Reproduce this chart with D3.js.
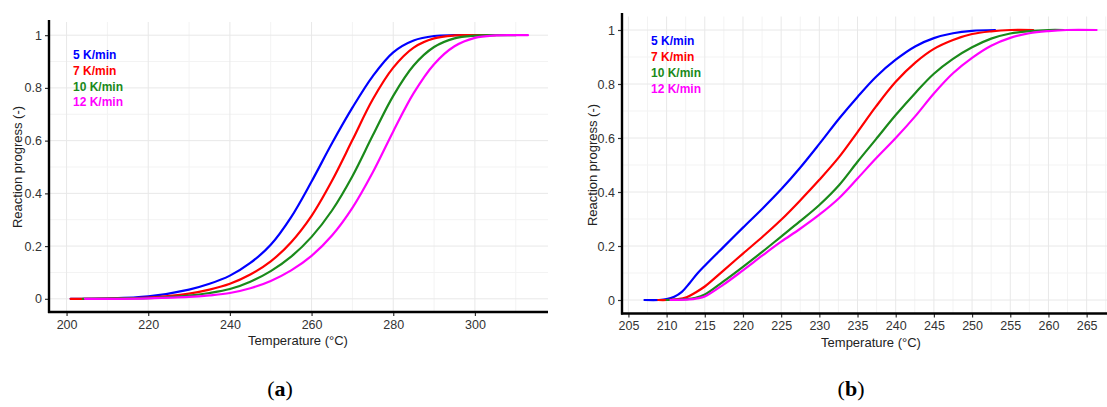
<!DOCTYPE html>
<html>
<head>
<meta charset="utf-8">
<script src="https://cdn.jsdelivr.net/npm/d3@7/dist/d3.min.js"></script>
<style>
  html, body { margin: 0; padding: 0; background: #fff; }
  svg { display: block; }
</style>
</head>
<body>
<svg id="chart" width="1107" height="407"></svg>
<script>
// Heating-rate series (legend order)
const rateLabels = ["5 K/min", "7 K/min", "10 K/min", "12 K/min"];

// Panel (a): temperature (°C) and reaction progress (-)
const tempA5  = [201, 210, 220, 230, 235, 240, 245, 250, 255, 260, 265, 270, 275, 280, 285, 290, 295, 300];
const progA5  = [0, 0.001, 0.009, 0.035, 0.057, 0.088, 0.136, 0.205, 0.31, 0.445, 0.59, 0.725, 0.845, 0.935, 0.98, 0.997, 1, 1];
const tempA7  = [201, 210, 220, 230, 235, 240, 245, 250, 255, 260, 265, 270, 275, 280, 285, 290, 295, 300, 305];
const progA7  = [0, 0.001, 0.005, 0.02, 0.035, 0.057, 0.092, 0.142, 0.215, 0.315, 0.448, 0.602, 0.757, 0.877, 0.953, 0.988, 0.999, 1, 1];
const tempA10 = [204, 210, 220, 230, 235, 240, 245, 250, 255, 260, 265, 270, 275, 280, 285, 290, 295, 300, 305, 310];
const progA10 = [0, 0.001, 0.003, 0.012, 0.022, 0.037, 0.065, 0.105, 0.16, 0.235, 0.335, 0.465, 0.62, 0.77, 0.885, 0.955, 0.988, 0.998, 1, 1];
const tempA12 = [204.5, 210, 220, 230, 235, 240, 245, 250, 255, 260, 265, 270, 275, 280, 285, 290, 295, 300, 305, 310, 313];
const progA12 = [0, 0, 0.002, 0.007, 0.013, 0.022, 0.04, 0.068, 0.108, 0.163, 0.24, 0.345, 0.48, 0.635, 0.78, 0.89, 0.958, 0.99, 0.999, 1, 1];

// Panel (b): temperature (°C) and reaction progress (-)
const tempB5  = [207.1, 209, 210, 211, 212, 213, 214, 215, 217.4, 220, 222.6, 225, 227.4, 230, 232.6, 235, 237.4, 240, 242.6, 245, 247.5, 250, 253];
const progB5  = [0, 0, 0.003, 0.012, 0.03, 0.062, 0.097, 0.127, 0.195, 0.268, 0.34, 0.41, 0.487, 0.578, 0.672, 0.752, 0.826, 0.89, 0.94, 0.97, 0.988, 0.997, 1];
const tempB7  = [208.9, 210, 211.5, 212.6, 213.8, 215, 217.4, 220, 222.6, 225, 227.4, 230, 232.6, 235, 237.4, 240, 242.6, 245, 247.5, 250, 252.5, 255, 258];
const progB7  = [0, 0, 0.003, 0.01, 0.028, 0.05, 0.108, 0.172, 0.235, 0.297, 0.366, 0.445, 0.53, 0.622, 0.716, 0.808, 0.88, 0.93, 0.963, 0.985, 0.995, 1, 1];
const tempB10 = [210, 212.5, 213.8, 215, 217.4, 220, 222.6, 225, 227.4, 230, 232.6, 235, 237.4, 240, 242.6, 245, 247.5, 250, 252.5, 255, 257.5, 260, 262];
const progB10 = [0, 0.003, 0.008, 0.02, 0.068, 0.123, 0.18, 0.235, 0.29, 0.352, 0.426, 0.512, 0.595, 0.685, 0.768, 0.838, 0.893, 0.936, 0.968, 0.987, 0.996, 1, 1];
const tempB12 = [210.5, 213, 214, 215, 217.4, 220, 222.6, 225, 227.4, 230, 232.6, 235, 237.4, 240, 242.6, 245, 247.5, 250, 252.5, 255, 257.5, 260, 262.4, 266.3];
const progB12 = [0, 0.002, 0.006, 0.013, 0.056, 0.11, 0.166, 0.216, 0.262, 0.316, 0.378, 0.45, 0.524, 0.6, 0.682, 0.765, 0.84, 0.897, 0.942, 0.971, 0.988, 0.996, 1, 1];

// Axis ticks
const yTicks = [0, 0.2, 0.4, 0.6, 0.8, 1];
const yTickLabels = ["0", "0.2", "0.4", "0.6", "0.8", "1"];
const xTicksA = [200, 220, 240, 260, 280, 300];
const xTicksB = [205, 210, 215, 220, 225, 230, 235, 240, 245, 250, 255, 260, 265];

const lineColors = ["#0000ff", "#ff0000", "#1a8a1a", "#ff00ff"];

const svg = d3.select("#chart");

function zip(ts, vs) { return ts.map((t, i) => ({ t: t, v: vs[i] })); }

function drawPanel(cfg) {
  const x = d3.scaleLinear().domain(cfg.xDomain).range([cfg.left, cfg.right]);
  const y = d3.scaleLinear().domain([-0.05, 1.05]).range([cfg.bottom, cfg.top]);
  const g = svg.append("g");

  const clipId = "clip-" + cfg.id;
  svg.append("clipPath").attr("id", clipId)
    .append("rect").attr("x", cfg.left).attr("y", cfg.top - 4)
    .attr("width", cfg.right - cfg.left).attr("height", cfg.bottom - cfg.top + 4);

  // minor grid
  const step = cfg.xTicks[1] - cfg.xTicks[0];
  const xMinor = cfg.xTicks.map(d => d - step / 2).concat([cfg.xTicks[cfg.xTicks.length - 1] + step / 2]);
  const yMinor = [-0.1, 0.1, 0.3, 0.5, 0.7, 0.9];
  const grid = g.append("g").attr("clip-path", `url(#${clipId})`);
  grid.selectAll(".xminor").data(xMinor).join("line")
    .attr("x1", d => x(d)).attr("x2", d => x(d))
    .attr("y1", cfg.top).attr("y2", cfg.bottom)
    .attr("stroke", "#f3f3f3").attr("stroke-width", 1);
  grid.selectAll(".yminor").data(yMinor).join("line")
    .attr("x1", cfg.left).attr("x2", cfg.right)
    .attr("y1", d => y(d)).attr("y2", d => y(d))
    .attr("stroke", "#f3f3f3").attr("stroke-width", 1);
  grid.selectAll(".xmajor").data(cfg.xTicks).join("line")
    .attr("x1", d => x(d)).attr("x2", d => x(d))
    .attr("y1", cfg.top).attr("y2", cfg.bottom)
    .attr("stroke", "#e8e8e8").attr("stroke-width", 1);
  grid.selectAll(".ymajor").data(yTicks).join("line")
    .attr("x1", cfg.left).attr("x2", cfg.right)
    .attr("y1", d => y(d)).attr("y2", d => y(d))
    .attr("stroke", "#e8e8e8").attr("stroke-width", 1);

  // curves
  const line = d3.line().x(d => x(d.t)).y(d => y(d.v)).curve(d3.curveCatmullRom.alpha(0.5));
  const curves = g.append("g").attr("clip-path", `url(#${clipId})`);
  cfg.series.forEach((s, i) => {
    curves.append("path").datum(s)
      .attr("d", line).attr("fill", "none")
      .attr("stroke", lineColors[i]).attr("stroke-width", 2.2)
      .attr("stroke-linejoin", "round").attr("stroke-linecap", "round");
  });

  // axes
  const xAxis = d3.axisBottom(x).tickValues(cfg.xTicks).tickSize(4).tickPadding(4);
  const gx = g.append("g").attr("transform", `translate(0,${cfg.bottom})`).call(xAxis);
  gx.select(".domain").remove();
  gx.append("line").attr("x1", cfg.left - 1).attr("x2", cfg.right)
    .attr("stroke", "#000").attr("stroke-width", 2.4);
  gx.selectAll(".tick line").attr("stroke", "#333").attr("stroke-width", 1.2);
  gx.selectAll(".tick text").attr("fill", "#333")
    .style("font-family", "Liberation Sans, Arial, sans-serif").style("font-size", "12.5px");

  const yAxis = d3.axisLeft(y).tickValues(yTicks)
    .tickFormat((d, i) => yTickLabels[i]).tickSize(4).tickPadding(3);
  const gy = g.append("g").attr("transform", `translate(${cfg.left},0)`).call(yAxis);
  gy.select(".domain").remove();
  gy.append("line").attr("y1", cfg.axisTop).attr("y2", cfg.bottom + 1)
    .attr("stroke", "#000").attr("stroke-width", 2.4);
  gy.selectAll(".tick line").attr("stroke", "#333").attr("stroke-width", 1.2);
  gy.selectAll(".tick text").attr("fill", "#333")
    .style("font-family", "Liberation Sans, Arial, sans-serif").style("font-size", "12.5px");

  // axis titles
  g.append("text").attr("x", cfg.xTitleX).attr("y", cfg.bottom + 33)
    .attr("text-anchor", "middle").attr("fill", "#222")
    .style("font-family", "Liberation Sans, Arial, sans-serif").style("font-size", "13px")
    .text("Temperature (°C)");
  g.append("text")
    .attr("transform", `translate(${cfg.yTitleX},${(cfg.top + cfg.bottom) / 2}) rotate(-90)`)
    .attr("text-anchor", "middle").attr("fill", "#222")
    .style("font-family", "Liberation Sans, Arial, sans-serif").style("font-size", "13px")
    .text("Reaction progress (-)");

  // legend
  rateLabels.forEach((lab, i) => {
    g.append("text").attr("x", cfg.legendX).attr("y", cfg.legendY + i * 15.8)
      .attr("fill", lineColors[i]).attr("dominant-baseline", "central")
      .style("font-family", "Liberation Sans, Arial, sans-serif")
      .style("font-size", "12px").style("font-weight", "bold")
      .text(lab);
  });

  // panel label
  svg.append("text").attr("x", cfg.tagX).attr("y", 396)
    .attr("text-anchor", "middle").attr("fill", "#000")
    .style("font-family", "Liberation Serif, Times New Roman, serif")
    .style("font-size", "22px")
    .html(`(<tspan font-weight="bold">${cfg.tag}</tspan>)`);
}

drawPanel({
  id: "a", tag: "a", tagX: 280,
  left: 49, right: 548, top: 22, bottom: 312, axisTop: 20,
  xDomain: [195.7, 317.9], xTicks: xTicksA,
  xTitleX: 298, yTitleX: 22,
  legendX: 73, legendY: 55,
  series: [zip(tempA5, progA5), zip(tempA7, progA7), zip(tempA10, progA10), zip(tempA12, progA12)]
});

drawPanel({
  id: "b", tag: "b", tagX: 851,
  left: 622, right: 1121, top: 16.5, bottom: 313.5, axisTop: 13,
  xDomain: [204.16, 269.5], xTicks: xTicksB,
  xTitleX: 871, yTitleX: 597,
  legendX: 651, legendY: 41.3,
  series: [zip(tempB5, progB5), zip(tempB7, progB7), zip(tempB10, progB10), zip(tempB12, progB12)]
});
</script>
</body>
</html>
